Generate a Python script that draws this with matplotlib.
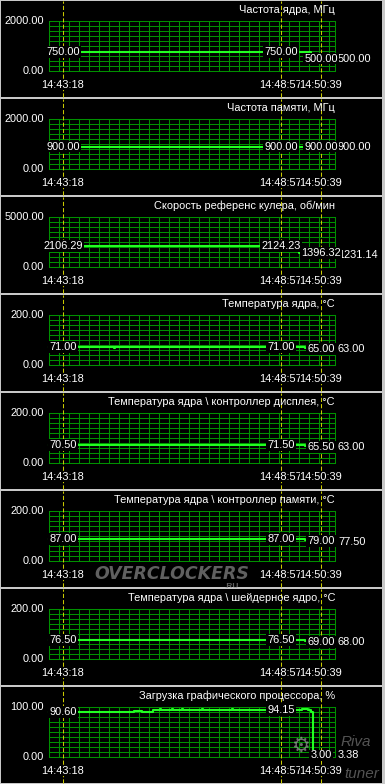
#!/usr/bin/env python3
"""
RivaTuner style hardware monitor: 8 stacked graph panels
"""

import matplotlib
matplotlib.use('Agg')
import matplotlib.pyplot as plt
import numpy as np

plt.rcParams['font.family'] = ['Liberation Sans', 'DejaVu Sans']

# ---- data -------------------------------------------------------------
# x is the sample index along the graph (one sample ~ one pixel column)
marker_x = [14, 232, 272]
marker_times = ['14:43:18', '14:48:57', '14:50:39']

titles = [
    'Частота ядра, МГц',
    'Частота памяти, МГц',
    'Скорость референс кулера, об/мин',
    'Температура ядра, °C',
    'Температура ядра \\ контроллер дисплея, °C',
    'Температура ядра \\ контроллер памяти, °C',
    'Температура ядра \\ шейдерное ядро, °C',
    'Загрузка графического процессора, %',
]
y_max = [2000, 2000, 5000, 200, 200, 200, 200, 100]

core_clock_x = [0, 256, 262, 272]
core_clock = [750, 750, 500, 500]

mem_clock_x = [0, 272]
mem_clock = [900, 900]

fan_x = [0, 60, 61, 120, 250, 262, 268, 272]
fan = [2106.29, 2150, 2106.29, 2124.23, 1396.32, 1396.32, 1231.14, 1231.14]

core_temp_x = [0, 65, 66, 120, 256, 264, 270, 272]
core_temp = [71.0, 70.0, 71.0, 71.0, 68.0, 65.0, 63.0, 63.0]

disp_temp_x = [0, 120, 256, 264, 270, 272]
disp_temp = [70.5, 71.5, 68.0, 65.5, 63.0, 63.0]

memc_temp_x = [0, 256, 264, 270, 272]
memc_temp = [87.0, 84.0, 79.0, 77.5, 77.5]

shader_temp_x = [0, 256, 264, 270, 272]
shader_temp = [76.5, 73.0, 69.0, 68.0, 68.0]

gpu_load_x = [0, 85, 93, 104, 111, 112, 123, 124, 133, 134, 153, 154,
              183, 184, 253, 259, 262, 264, 272]
gpu_load = [90.6, 92.7, 90.6, 94.15, 95.5, 94.15, 95.5, 94.15, 95.5, 94.15,
            95.5, 94.15, 95.5, 94.15, 95.6, 94.5, 90.6, 3.0, 3.0]

series_x = [core_clock_x, mem_clock_x, fan_x, core_temp_x, disp_temp_x,
            memc_temp_x, shader_temp_x, gpu_load_x]
series_y = [core_clock, mem_clock, fan, core_temp, disp_temp,
            memc_temp, shader_temp, gpu_load]

# values shown at the three markers and the current value
marker_values = [
    [750.00, 750.00, 500.00, 500.00],
    [900.00, 900.00, 900.00, 900.00],
    [2106.29, 2124.23, 1396.32, 1231.14],
    [71.00, 71.00, 65.00, 63.00],
    [70.50, 71.50, 65.50, 63.00],
    [87.00, 87.00, 79.00, 77.50],
    [76.50, 76.50, 69.00, 68.00],
    [90.60, 94.15, 3.00, 3.38],
]

# ---- layout -----------------------------------------------------------
W, H = 385, 784
PANEL = 98
GRID_L, GRID_R = 49, 335
N_SAMPLES = GRID_R - GRID_L

GRID_C = '#009000'
LINE_C = '#22ff22'
MARK_C = '#c8c800'
SEP_C = '#c8c8c8'
FS = 7.9


def fig_rect(x0, y0, x1, y1):
    """pixel box (top-left origin) -> figure fraction rect"""
    return [x0 / W, 1 - y1 / H, (x1 - x0) / W, (y1 - y0) / H]


fig = plt.figure(figsize=(W / 100, H / 100), dpi=100, facecolor=SEP_C)
black_box = dict(facecolor='black', edgecolor='none', pad=0.6)
time_box = dict(facecolor='black', edgecolor='none', pad=0.1)

for k in range(8):
    top = PANEL * k
    bg = fig.add_axes(fig_rect(1, top + 1, 382, top + 97))
    bg.set_facecolor('black')
    bg.set_xticks([])
    bg.set_yticks([])
    for s in bg.spines.values():
        s.set_visible(False)

    g_top, g_bot = top + 21, top + 71
    ax = fig.add_axes(fig_rect(GRID_L, g_top, GRID_R, g_bot))
    ax.set_facecolor('none')
    ax.set_xlim(0, N_SAMPLES)
    ax.set_ylim(0, y_max[k])
    ax.set_xticks(np.arange(0, N_SAMPLES, 10))
    ax.set_yticks(np.linspace(0, y_max[k], 11))
    ax.tick_params(length=0, labelbottom=False, labelleft=False)
    ax.grid(True, color=GRID_C, linewidth=0.75)
    ax.set_axisbelow(True)
    for s in ax.spines.values():
        s.set_color(GRID_C)
        s.set_linewidth(0.75)

    # panel span in axes fraction (for the dashed markers)
    span_top = 1 + (g_top - (top + 1)) / (g_bot - g_top)
    span_bot = -((top + 97) - g_bot) / (g_bot - g_top)
    for mx in marker_x:
        ax.axvline(mx, ymin=span_bot, ymax=span_top, color=MARK_C,
                   linewidth=0.75, dashes=(4, 2), clip_on=False, zorder=3)

    ax.plot(series_x[k], series_y[k], color=LINE_C, linewidth=1.5,
            drawstyle='steps-post', zorder=4, clip_on=False)

    # title
    ax.text(1.0, 1 + 11 / 50, titles[k], transform=ax.transAxes,
            ha='right', va='center', color='white', fontsize=FS, zorder=6)

    # y range labels
    ytr = ax.get_yaxis_transform()
    for v in (0, y_max[k]):
        ax.text(-5 / N_SAMPLES, v, f'{v:.2f}', transform=ytr, ha='right',
                va='center', color='white', fontsize=FS, zorder=6)

    # time labels under the markers
    xtr = ax.get_xaxis_transform()
    for mx, t in zip(marker_x, marker_times):
        ax.text(mx, -14 / 50, t, transform=xtr, ha='center', va='center',
                color='white', fontsize=FS, bbox=time_box, zorder=6)

    # values at markers and current value (current one sits underneath)
    vals = marker_values[k]
    ax.text(N_SAMPLES + 3, vals[3], f'{vals[3]:.2f}', ha='left', va='center',
            color='white', fontsize=FS, bbox=black_box, zorder=5, clip_on=False)
    for mx, v in zip(marker_x, vals[:3]):
        ax.text(mx, v, f'{v:.2f}', ha='center', va='center', color='white',
                fontsize=FS, bbox=black_box, zorder=6, clip_on=False)

# watermarks
fig.text(172 / W, 1 - 574 / H, 'OVERCLOCKERS', ha='center', va='center',
         color='#8a8a8a', alpha=0.7, fontsize=12.5, fontweight='bold',
         style='italic', family='DejaVu Sans')
fig.text(232 / W, 1 - 587 / H, '.RU', ha='center', va='center',
         color='#8a8a8a', alpha=0.7, fontsize=6, fontweight='bold')
fig.text(300 / W, 1 - 746 / H, '⚙', ha='center', va='center',
         color='#a0a0a0', alpha=0.7, fontsize=15, family='DejaVu Sans')
fig.text(356 / W, 1 - 742 / H, 'Riva', ha='center', va='center',
         color='#777777', alpha=0.7, fontsize=11, style='italic')
fig.text(362 / W, 1 - 774 / H, 'tuner', ha='center', va='center',
         color='#777777', alpha=0.7, fontsize=11, style='italic')

fig.savefig('out.png', dpi=100, facecolor=SEP_C)
